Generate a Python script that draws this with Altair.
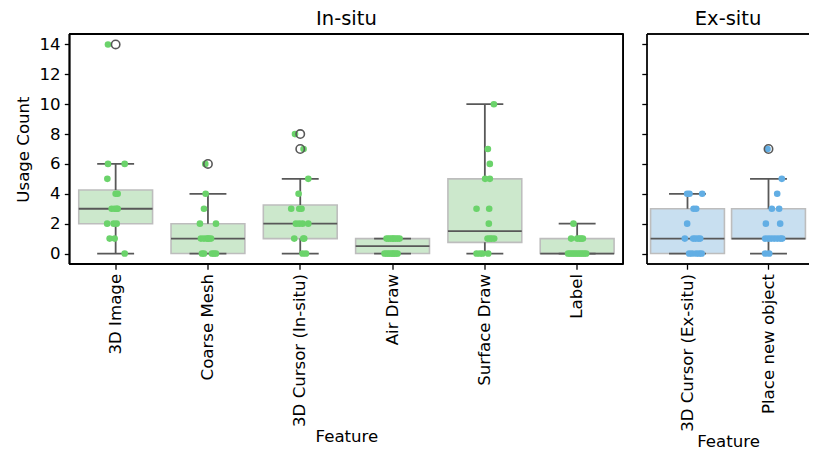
import altair as alt
import pandas as pd
import numpy as np

# ---------------- data ----------------
in_situ_features = ["3D Image", "Coarse Mesh", "3D Cursor (In-situ)", "Air Draw", "Surface Draw", "Label"]
ex_situ_features = ["3D Cursor (Ex-situ)", "Place new object"]

image3d_values = [14, 6, 6, 5, 4, 4, 3, 3, 3, 3, 2, 2, 2, 1, 1, 0]
image3d_jitter = [-0.083, -0.083, 0.098, -0.09, 0.0, 0.022, -0.043, -0.011, 0.011, 0.022, -0.092, -0.022, 0.011, -0.065, -0.011, 0.098]

coarse_values = [6, 4, 3, 2, 2, 1, 1, 1, 1, 1, 1, 0, 0, 0, 0, 0]
coarse_jitter = [-0.029, -0.025, -0.043, -0.087, 0.087, -0.076, -0.043, -0.011, 0.0, 0.011, 0.033, -0.065, -0.043, 0.043, 0.065, 0.087]

cursor_in_values = [8, 7, 5, 4, 3, 3, 3, 2, 2, 2, 2, 1, 1, 1, 0, 0]
cursor_in_jitter = [-0.057, 0.036, 0.087, -0.018, -0.098, -0.011, 0.014, -0.047, -0.011, 0.025, 0.087, -0.065, 0.033, 0.043, 0.025, 0.062]

airdraw_values = [1, 1, 1, 1, 1, 1, 1, 1, 0, 0, 0, 0, 0, 0, 0, 0]
airdraw_jitter = [-0.065, -0.043, -0.022, 0.0, 0.011, 0.033, 0.054, 0.076, -0.087, -0.065, -0.043, -0.022, 0.0, 0.011, 0.033, 0.054]

surface_values = [10, 7, 6, 5, 5, 3, 3, 2, 1, 1, 1, 1, 0, 0, 0, 0]
surface_jitter = [0.098, 0.033, 0.054, 0.003, 0.054, -0.09, 0.047, 0.043, 0.029, 0.073, 0.101, 0.054, -0.09, -0.025, 0.036, -0.054]

label_values = [2, 1, 1, 1, 1, 1, 0, 0, 0, 0, 0, 0, 0, 0, 0, 0]
label_jitter = [-0.04, -0.065, 0.0, 0.025, 0.043, 0.062, -0.098, -0.076, -0.054, -0.033, -0.011, 0.011, 0.033, 0.054, 0.076, 0.098]

cursor_ex_values = [4, 4, 4, 3, 3, 2, 1, 1, 1, 1, 1, 0, 0, 0, 0, 0]
cursor_ex_jitter = [-0.065, -0.04, 0.098, 0.005, 0.033, -0.065, -0.09, 0.0, 0.025, 0.054, 0.076, -0.043, -0.011, 0.033, 0.065, 0.092]

place_values = [7, 5, 4, 3, 3, 2, 2, 1, 1, 1, 1, 1, 1, 1, 0, 0]
place_jitter = [-0.072, 0.083, 0.033, -0.025, 0.054, -0.09, 0.065, -0.098, -0.065, -0.033, 0.0, 0.033, 0.065, 0.087, -0.098, -0.054]

y_ticks = [0, 2, 4, 6, 8, 10, 12, 14]

series = {
    "3D Image": (image3d_values, image3d_jitter),
    "Coarse Mesh": (coarse_values, coarse_jitter),
    "3D Cursor (In-situ)": (cursor_in_values, cursor_in_jitter),
    "Air Draw": (airdraw_values, airdraw_jitter),
    "Surface Draw": (surface_values, surface_jitter),
    "Label": (label_values, label_jitter),
    "3D Cursor (Ex-situ)": (cursor_ex_values, cursor_ex_jitter),
    "Place new object": (place_values, place_jitter),
}

# ---------------- tables ----------------
pts_rows, stat_rows, out_rows = [], [], []
for feat, (vals, jit) in series.items():
    for v, j in zip(vals, jit):
        pts_rows.append({"feature": feat, "value": v, "jitter": j})
    a = np.array(vals, dtype=float)
    q1, med, q3 = np.percentile(a, [25, 50, 75])
    iqr = q3 - q1
    lo_f, hi_f = q1 - 1.5 * iqr, q3 + 1.5 * iqr
    inside = a[(a >= lo_f) & (a <= hi_f)]
    stat_rows.append({"feature": feat, "q1": q1, "median": med, "q3": q3,
                      "lo": inside.min(), "hi": inside.max()})
    for v in sorted(set(a[(a < lo_f) | (a > hi_f)])):
        out_rows.append({"feature": feat, "value": v})

pts = pd.DataFrame(pts_rows)
stats = pd.DataFrame(stat_rows)
outs = pd.DataFrame(out_rows)

GREEN_PT = "#6bd36b"
GREEN_BOX = "#cce8cc"
BLUE_PT = "#62aee4"
BLUE_BOX = "#c8dff0"
EDGE = "#bdbdbd"
LINE = "#585858"
FONT = "DejaVu Sans"
STEP = 92.3
PLOT_H = 230
Y_DOMAIN = [-0.7, 14.7]


def panel(features, pt_color, box_color, title, show_y, view_w):
    full_w = STEP * len(features)
    p = pts[pts.feature.isin(features)]
    s = stats[stats.feature.isin(features)]
    o = outs[outs.feature.isin(features)]
    n = len(features)
    cut = view_w < full_w - 0.5
    if cut:
        # panel cut at the page edge: negative outer padding keeps the category step
        pad_outer = alt.ExprRef(expr="%.5f" % ((view_w / STEP - n) / 2.0))
        xs = alt.Scale(domain=features, paddingInner=0, paddingOuter=pad_outer, align=0)
    else:
        xs = alt.Scale(domain=features, paddingInner=0, paddingOuter=0)
    xax = alt.Axis(title="Feature", labelAngle=-90, titlePadding=2)
    x = alt.X("feature:N", sort=features, scale=xs, axis=xax)
    ys = alt.Scale(domain=Y_DOMAIN, nice=False, zero=False)
    if show_y:
        yax = alt.Axis(values=y_ticks, title="Usage Count", titlePadding=7)
        ytitle = "Usage Count"
    else:
        yax = alt.Axis(values=y_ticks, labels=False, title=None)
        ytitle = None

    def Y(field):
        return alt.Y(field, scale=ys, axis=yax, title=ytitle)

    box = alt.Chart(s).mark_bar(size=0.8 * STEP, fill=box_color, stroke=EDGE,
                                strokeWidth=1.6, clip=True).encode(x=x, y=Y("q1:Q"), y2="q3:Q")
    wl = alt.Chart(s).mark_rule(color=LINE, strokeWidth=1.8, clip=True).encode(x=x, y=Y("lo:Q"), y2="q1:Q")
    wh = alt.Chart(s).mark_rule(color=LINE, strokeWidth=1.8, clip=True).encode(x=x, y=Y("q3:Q"), y2="hi:Q")
    cap_lo = alt.Chart(s).mark_tick(color=LINE, size=0.4 * STEP, thickness=1.8, opacity=1, clip=True).encode(x=x, y=Y("lo:Q"))
    cap_hi = alt.Chart(s).mark_tick(color=LINE, size=0.4 * STEP, thickness=1.8, opacity=1, clip=True).encode(x=x, y=Y("hi:Q"))
    med = alt.Chart(s).mark_tick(color=LINE, size=0.8 * STEP, thickness=1.8, opacity=1, clip=True).encode(x=x, y=Y("median:Q"))
    dots = alt.Chart(p).mark_circle(color=pt_color, size=44, opacity=1, clip=True).encode(
        x=x,
        xOffset=alt.XOffset("jitter:Q", scale=alt.Scale(domain=[-0.5, 0.5])),
        y=Y("value:Q"),
    )
    layers = [box, wl, wh, cap_lo, cap_hi, med, dots]
    if len(o):
        flier = alt.Chart(o).mark_point(shape="circle", filled=False, color=LINE,
                                        strokeWidth=1.6, size=70, opacity=1, clip=True).encode(x=x, y=Y("value:Q"))
        layers.append(flier)

    # axes frame (the cut panel has no right edge)
    frame_top = alt.Chart(s).mark_rule(color="black", strokeWidth=1.3).encode(
        x=alt.value(0), x2=alt.value(view_w), y=alt.value(0))
    frame_bot = alt.Chart(s).mark_rule(color="black", strokeWidth=1.3).encode(
        x=alt.value(0), x2=alt.value(view_w), y=alt.value(PLOT_H))
    frame_left = alt.Chart(s).mark_rule(color="black", strokeWidth=1.3).encode(
        x=alt.value(0), y=alt.value(0), y2=alt.value(PLOT_H))
    layers += [frame_top, frame_bot, frame_left]
    if not cut:
        frame_right = alt.Chart(s).mark_rule(color="black", strokeWidth=1.3).encode(
            x=alt.value(view_w), y=alt.value(0), y2=alt.value(PLOT_H))
        layers.append(frame_right)

    return alt.layer(*layers).properties(
        width=view_w, height=PLOT_H,
        title=alt.TitleParams(title, fontSize=19.5, font=FONT, fontWeight="normal", anchor="middle", offset=4),
    )


left = panel(in_situ_features, GREEN_PT, GREEN_BOX, "In-situ", True, STEP * 6)
right = panel(ex_situ_features, BLUE_PT, BLUE_BOX, "Ex-situ", False, 162)

chart = alt.hconcat(left, right, spacing=16.5).resolve_scale(
    x="independent", y="independent"
).properties(
    padding={"left": 7.5, "top": 0, "right": 0, "bottom": 0}
).configure_view(
    stroke="transparent", strokeWidth=0
).configure_axis(
    domain=False, grid=False, tickColor="black", tickSize=5.2, tickWidth=1.3,
    labelFont=FONT, labelFontSize=16.6, labelColor="black", labelPadding=4.2,
    titleFont=FONT, titleFontSize=16.6, titleFontWeight="normal", titleColor="black",
).configure_title(color="black")

chart.save("out.html", embed_options={"renderer": "svg", "actions": False})
